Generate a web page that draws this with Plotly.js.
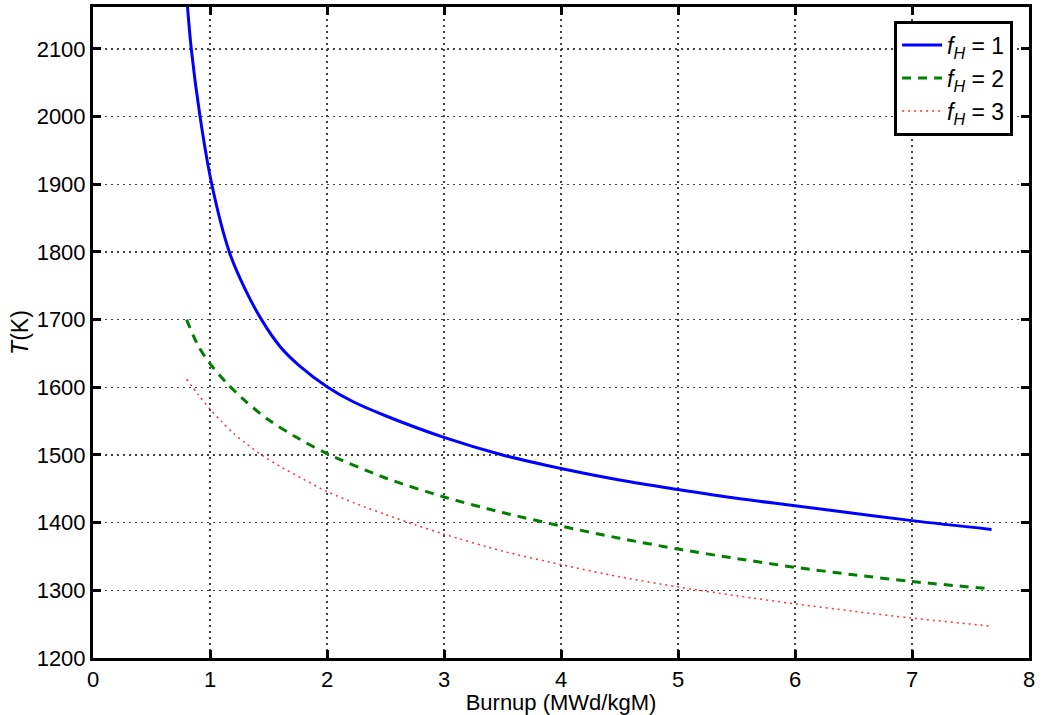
<!DOCTYPE html>
<html>
<head>
<meta charset="utf-8">
<script src="https://cdn.plot.ly/plotly-3.0.1.min.js"></script>
<style>html,body{margin:0;padding:0;background:#fff;}#chart{width:1042px;height:715px;}</style>
</head>
<body>
<div id="chart"></div>
<script>
// Burnup (MWd/kgM) and temperature T (K)
const burnup1 = [0.80, 0.84, 0.915, 1.015, 1.165, 1.30, 1.44, 1.60, 1.77, 2.0, 2.22, 2.5, 3.0, 3.5, 4.0, 4.5, 5.0, 5.5, 6.0, 6.5, 7.0, 7.68];
const tempFH1 = [2180, 2100, 2000, 1900, 1800, 1745, 1700, 1660, 1631, 1601, 1579, 1558, 1526, 1500, 1480, 1463, 1449, 1436, 1425, 1414, 1403, 1390];

const burnup2 = [0.80, 0.9, 1.0, 1.15, 1.3, 1.5, 1.75, 2.0, 2.5, 3.0, 3.5, 4.0, 4.5, 5.0, 5.5, 6.0, 6.5, 7.0, 7.68];
const tempFH2 = [1700, 1661, 1635, 1605, 1580, 1552, 1525, 1502, 1466, 1438, 1415, 1395, 1377, 1361, 1347, 1334, 1323, 1313, 1302];

const burnup3 = [0.80, 0.9, 1.0, 1.1, 1.2, 1.3, 1.44, 1.6, 1.8, 2.0, 2.25, 2.5, 2.75, 3.0, 3.5, 4.0, 4.5, 5.0, 5.5, 6.0, 6.5, 7.0, 7.68];
const tempFH3 = [1612, 1589, 1568, 1549, 1532, 1518, 1500, 1483, 1464, 1446, 1428, 1412, 1397, 1383, 1358, 1338, 1320, 1305, 1292, 1280, 1269, 1259, 1247];

const seriesNames = ['<i>f</i><sub><i>H</i></sub> = 1', '<i>f</i><sub><i>H</i></sub> = 2', '<i>f</i><sub><i>H</i></sub> = 3'];

const font = "Liberation Sans, Arial, Helvetica, sans-serif";

const traces = [
  {x: burnup1, y: tempFH1, name: seriesNames[0], mode: 'lines',
   line: {color: '#0000ff', width: 3, shape: 'spline', smoothing: 1.0}},
  {x: burnup2, y: tempFH2, name: seriesNames[1], mode: 'lines',
   line: {color: '#008000', width: 3, dash: '9px,7px', shape: 'spline', smoothing: 0.8}},
  {x: burnup3, y: tempFH3, name: seriesNames[2], mode: 'lines',
   line: {color: '#ff3333', width: 1.5, dash: '2px,4px', shape: 'spline', smoothing: 0.8}}
];

const axisCommon = {
  showline: true, linecolor: '#000', linewidth: 3, mirror: 'ticks',
  ticks: 'inside', ticklen: 8, tickwidth: 3, tickcolor: '#000',
  showgrid: true, gridcolor: '#444', griddash: '1.5px,4.5px', gridwidth: 1.5,
  zeroline: false, tickfont: {family: font, size: 22, color: '#000'}
};

const layout = {
  width: 1042, height: 715,
  margin: {l: 93, r: 13, t: 7, b: 57},
  paper_bgcolor: '#fff', plot_bgcolor: '#fff',
  showlegend: true,
  xaxis: Object.assign({}, axisCommon, {
    range: [0, 8], dtick: 1,
    title: {text: 'Burnup (MWd/kgM)', font: {family: font, size: 22, color: '#000'}, standoff: 3}
  }),
  yaxis: Object.assign({}, axisCommon, {
    range: [1200, 2162], dtick: 100,
    title: {text: '<i>T</i>(K)', font: {family: font, size: 23, color: '#000'}, standoff: 2}
  }),
  legend: {
    x: 0.983, xanchor: 'right', y: 0.979, yanchor: 'top',
    bgcolor: '#fff', bordercolor: '#000', borderwidth: 3,
    font: {family: font, size: 23, color: '#000'},
    itemwidth: 40, tracegroupgap: 0
  }
};

Plotly.newPlot('chart', traces, layout, {displayModeBar: false, staticPlot: true});
</script>
</body>
</html>
